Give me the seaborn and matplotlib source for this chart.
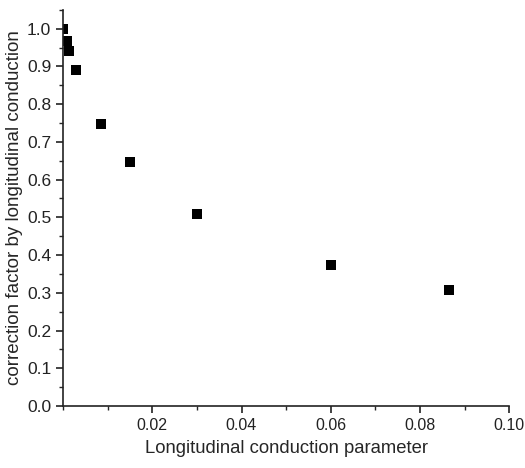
import numpy as np
import pandas as pd
import matplotlib
matplotlib.use("Agg")
from matplotlib import pyplot as plt
from matplotlib.ticker import MultipleLocator
import seaborn as sns

# values
lc_param = [0.0001, 0.0009, 0.0014, 0.003, 0.0085, 0.015, 0.030, 0.060, 0.0865]
corr_factor = [1.0, 0.967, 0.942, 0.890, 0.748, 0.647, 0.508, 0.374, 0.308]

x_ticks = [0.02, 0.04, 0.06, 0.08, 0.10]
x_tick_labels = ["0.02", "0.04", "0.06", "0.08", "0.10"]

df = pd.DataFrame({"lc": lc_param, "cf": corr_factor})

sns.set_style("ticks")
plt.rcParams['font.family'] = ['Liberation Sans', 'DejaVu Sans']

fig = plt.figure(figsize=(5.25, 4.68), dpi=100)
ax = fig.add_axes([0.12, 0.1325, 0.85, 0.8465])

sns.scatterplot(data=df, x="lc", y="cf", marker="s", color="black", s=55,
                edgecolor="black", linewidth=0, ax=ax)

ax.set_xlim(0, 0.1)
ax.set_ylim(0, 1.05)
ax.set_xticks(x_ticks)
ax.set_xticklabels(x_tick_labels)
ax.xaxis.set_minor_locator(MultipleLocator(0.01))
ax.set_yticks(np.arange(0, 1.01, 0.1))
ax.set_yticklabels(["%.1f" % v for v in np.arange(0, 1.01, 0.1)])
ax.yaxis.set_minor_locator(MultipleLocator(0.05))

ax.tick_params(which="major", direction="out", length=5, width=1.2, colors="#222222")
ax.tick_params(axis="x", which="major", labelsize=11.5)
ax.tick_params(axis="y", which="major", labelsize=12.5)
ax.tick_params(which="minor", direction="out", length=3, width=1.0)
for s in ["left", "bottom"]:
    ax.spines[s].set_linewidth(1.2)
    ax.spines[s].set_color("#222222")
sns.despine(ax=ax)

ax.set_xlabel("Longitudinal conduction parameter", fontsize=13.3, labelpad=5)
ax.set_ylabel("correction factor by longitudinal conduction", fontsize=13.5, labelpad=3)

plt.savefig("out.png", dpi=100)
